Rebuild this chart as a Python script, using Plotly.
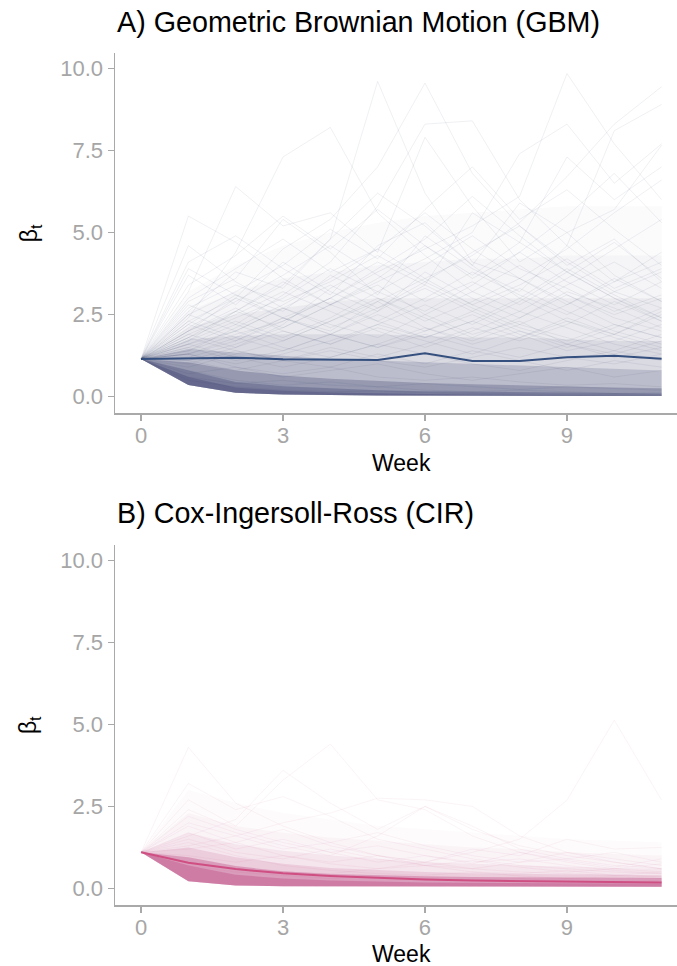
import plotly.graph_objects as go

# ---------------- data ----------------
weeks = list(range(12))
y_tick_vals = [0.0, 2.5, 5.0, 7.5, 10.0]
y_tick_text = ["0.0", "2.5", "5.0", "7.5", "10.0"]
x_tick_vals = [0, 3, 6, 9]
x_tick_text = ["0", "3", "6", "9"]

title_a = "A) Geometric Brownian Motion (GBM)"
title_b = "B) Cox-Ingersoll-Ross (CIR)"

gbm_mean = [1.15, 1.16, 1.19, 1.14, 1.13, 1.12, 1.32, 1.09, 1.09, 1.20, 1.25, 1.16]
gbm_lower = [1.15, 0.36, 0.12, 0.07, 0.05, 0.04, 0.03, 0.03, 0.02, 0.02, 0.02, 0.02]
gbm_upper_97 = [1.15, 3.2, 4.0, 4.6, 5.0, 5.3, 5.5, 5.6, 5.7, 5.8, 5.8, 5.8]
gbm_upper_92 = [1.15, 2.6, 3.2, 3.6, 3.8, 4.0, 4.1, 4.2, 4.2, 4.3, 4.3, 4.3]
gbm_upper_85 = [1.15, 2.1, 2.5, 2.7, 2.9, 3.0, 3.0, 3.0, 3.0, 3.0, 3.0, 3.0]
gbm_upper_75 = [1.15, 1.75, 1.85, 1.9, 1.9, 1.9, 1.85, 1.8, 1.8, 1.75, 1.7, 1.7]
gbm_upper_65 = [1.15, 1.45, 1.35, 1.25, 1.15, 1.1, 1.05, 1.0, 0.95, 0.9, 0.85, 0.8]
gbm_upper_40 = [1.15, 1.05, 0.8, 0.65, 0.55, 0.48, 0.42, 0.38, 0.34, 0.3, 0.28, 0.26]
gbm_upper_20 = [1.15, 0.8, 0.45, 0.32, 0.25, 0.2, 0.17, 0.15, 0.13, 0.12, 0.11, 0.1]
gbm_upper_10 = [1.15, 0.6, 0.28, 0.18, 0.13, 0.1, 0.08, 0.07, 0.06, 0.05, 0.05, 0.04]

# GBM: individual visible paths
gbm_paths = [
    [1.15, 1.8, 2.6, 3.4, 4.8, 9.6, 6.2, 4.1, 3.6, 2.9, 2.2, 1.8],
    [1.15, 2.4, 4.4, 7.3, 8.2, 5.6, 4.3, 3.2, 4.0, 3.1, 2.4, 2.0],
    [1.15, 5.5, 4.7, 3.6, 2.8, 3.4, 2.5, 1.9, 2.3, 1.6, 1.2, 1.5],
    [1.15, 3.2, 6.4, 5.2, 5.6, 4.4, 7.9, 5.8, 4.1, 5.0, 3.7, 2.9],
    [1.15, 2.0, 3.0, 4.5, 5.4, 7.0, 9.55, 6.8, 5.2, 4.0, 4.8, 3.5],
    [1.15, 1.6, 2.2, 3.1, 4.1, 5.8, 8.3, 8.4, 6.0, 4.6, 3.5, 4.1],
    [1.15, 1.4, 1.9, 2.3, 3.0, 3.8, 4.5, 5.2, 6.1, 9.84, 7.7, 6.0],
    [1.15, 1.7, 2.6, 2.1, 2.8, 3.5, 4.2, 5.0, 7.4, 8.3, 6.5, 7.7],
    [1.15, 1.3, 1.7, 2.4, 2.0, 2.9, 3.6, 4.3, 5.3, 6.7, 8.3, 9.44],
    [1.15, 2.9, 3.6, 5.4, 4.4, 3.1, 4.9, 3.9, 3.2, 4.6, 8.1, 8.9],
    [1.15, 1.9, 1.5, 2.2, 3.3, 4.1, 3.4, 5.6, 4.7, 7.3, 6.0, 7.0],
    [1.15, 2.6, 3.8, 3.3, 4.8, 6.2, 5.2, 4.0, 5.9, 5.0, 5.7, 7.66],
    [1.15, 3.7, 2.8, 4.1, 3.2, 2.6, 3.8, 3.0, 2.4, 3.2, 2.7, 2.1],
    [1.15, 4.1, 4.9, 3.9, 3.1, 4.6, 5.3, 4.0, 3.0, 2.3, 1.9, 2.6],
    [1.15, 2.2, 3.1, 2.6, 3.7, 3.0, 2.3, 2.9, 3.6, 2.8, 3.5, 4.4],
    [1.15, 1.6, 2.0, 2.7, 2.2, 1.8, 2.5, 3.2, 2.6, 3.4, 4.1, 3.3],
    [1.15, 2.8, 2.2, 1.7, 2.3, 2.9, 2.1, 1.6, 2.0, 1.5, 1.9, 2.5],
    [1.15, 1.2, 1.6, 2.1, 2.8, 2.3, 3.0, 3.8, 3.1, 2.5, 3.2, 2.7],
    [1.15, 1.9, 2.5, 3.2, 2.6, 2.0, 1.5, 2.0, 2.6, 2.1, 1.6, 1.3],
    [1.15, 2.3, 1.8, 2.4, 1.9, 2.6, 3.4, 2.7, 2.1, 1.7, 2.2, 1.8],
    [1.15, 0.9, 1.3, 1.7, 2.3, 3.0, 2.4, 1.8, 2.4, 3.1, 2.5, 3.0],
    [1.15, 1.5, 1.1, 1.4, 1.9, 1.5, 2.0, 2.6, 2.0, 1.6, 2.1, 2.7],
    [1.15, 2.0, 2.7, 2.0, 1.6, 2.1, 1.7, 1.3, 1.8, 2.3, 1.8, 1.4],
    [1.15, 1.3, 1.8, 1.4, 1.9, 2.5, 2.0, 2.5, 1.9, 1.4, 1.7, 2.2],
    [1.15, 3.0, 3.9, 4.8, 3.8, 4.5, 3.6, 2.8, 3.4, 4.2, 3.3, 3.9],
    [1.15, 1.8, 2.4, 3.0, 3.9, 3.2, 4.0, 4.9, 3.9, 3.3, 2.6, 3.1],
    [1.15, 4.6, 3.5, 2.7, 2.1, 2.7, 3.3, 2.6, 3.3, 2.6, 2.0, 1.6],
    [1.15, 2.1, 2.9, 3.7, 4.6, 3.7, 2.9, 3.5, 2.8, 3.6, 4.5, 5.4],
    [1.15, 1.5, 2.0, 1.5, 1.2, 1.6, 2.1, 1.7, 2.2, 1.8, 1.4, 1.9],
    [1.15, 2.5, 3.2, 4.0, 5.1, 4.2, 5.7, 7.0, 5.4, 6.3, 5.1, 4.0],
    [1.15, 1.1, 0.8, 1.1, 1.4, 1.1, 0.9, 1.2, 1.5, 1.2, 1.0, 1.3],
    [1.15, 0.7, 0.9, 0.6, 0.8, 1.0, 0.7, 0.5, 0.7, 0.9, 0.6, 0.8],
    [1.15, 0.6, 0.4, 0.5, 0.35, 0.3, 0.4, 0.3, 0.22, 0.3, 0.25, 0.2],
    [1.15, 0.8, 0.5, 0.35, 0.45, 0.3, 0.2, 0.15, 0.2, 0.14, 0.1, 0.12],
    [1.15, 1.3, 0.9, 0.7, 0.9, 0.6, 0.5, 0.6, 0.45, 0.35, 0.4, 0.3],
    [1.15, 0.5, 0.3, 0.2, 0.15, 0.18, 0.12, 0.1, 0.08, 0.06, 0.07, 0.05],
    [1.15, 2.7, 3.4, 2.9, 3.5, 4.3, 3.5, 4.4, 5.2, 4.1, 3.2, 3.8],
    [1.15, 1.4, 2.1, 2.8, 3.6, 4.5, 5.6, 4.5, 3.6, 4.5, 5.6, 6.6],
    [1.15, 2.2, 1.7, 2.3, 3.0, 3.9, 4.8, 6.1, 4.9, 3.8, 4.7, 3.6],
    [1.15, 3.4, 4.3, 5.5, 4.5, 5.7, 4.6, 3.6, 4.4, 5.5, 6.8, 5.3],
    [1.15, 1.7, 2.3, 1.8, 2.4, 3.2, 2.6, 3.4, 4.4, 3.5, 2.8, 3.5],
    [1.15, 2.5, 2.0, 2.7, 3.4, 2.7, 3.5, 2.8, 2.2, 2.8, 3.6, 2.9],
    [1.15, 1.1, 1.5, 2.0, 1.6, 2.2, 2.8, 2.2, 2.9, 3.8, 3.0, 2.4],
    [1.15, 1.8, 1.4, 1.1, 1.5, 1.2, 1.6, 2.1, 1.7, 2.2, 2.9, 2.3],
    [1.15, 1.0, 1.4, 1.1, 0.9, 1.3, 1.0, 1.4, 1.1, 0.8, 1.1, 0.9],
    [1.15, 2.3, 3.0, 2.4, 1.9, 1.5, 1.9, 1.5, 1.2, 1.6, 1.3, 1.7],
    [1.15, 1.6, 1.2, 0.9, 1.2, 1.6, 1.3, 1.0, 0.8, 1.1, 1.4, 1.1],
    [1.15, 3.9, 3.1, 2.4, 3.0, 2.3, 1.8, 2.3, 3.0, 3.9, 3.1, 2.4],
    [1.15, 2.0, 2.6, 3.5, 2.8, 3.6, 4.6, 3.7, 4.7, 3.8, 3.0, 2.3],
    [1.15, 1.3, 1.0, 1.3, 1.7, 2.2, 1.8, 2.3, 1.8, 2.4, 1.9, 1.5],
]

# CIR: mean path and density envelopes
cir_mean = [1.1, 0.78, 0.59, 0.46, 0.38, 0.32, 0.27, 0.24, 0.22, 0.20, 0.19, 0.18]
cir_lower = [1.1, 0.22, 0.09, 0.07, 0.06, 0.06, 0.05, 0.05, 0.05, 0.05, 0.05, 0.05]
cir_upper_98 = [1.1, 3.0, 2.6, 2.3, 2.1, 1.9, 1.8, 1.7, 1.6, 1.5, 1.45, 1.4]
cir_upper_93 = [1.1, 2.3, 1.9, 1.7, 1.55, 1.45, 1.35, 1.25, 1.2, 1.1, 1.05, 1.0]
cir_upper_85 = [1.1, 1.7, 1.35, 1.15, 1.0, 0.9, 0.8, 0.75, 0.7, 0.65, 0.62, 0.6]
cir_upper_65 = [1.1, 1.25, 0.95, 0.75, 0.62, 0.55, 0.5, 0.46, 0.44, 0.42, 0.41, 0.4]
cir_upper_45 = [1.1, 0.95, 0.68, 0.52, 0.44, 0.4, 0.37, 0.35, 0.34, 0.33, 0.32, 0.32]
cir_upper_25 = [1.1, 0.7, 0.42, 0.3, 0.24, 0.2, 0.18, 0.17, 0.16, 0.15, 0.15, 0.15]

cir_paths = [
    [1.1, 4.3, 2.6, 1.9, 1.4, 1.0, 0.8, 0.6, 0.5, 0.45, 0.4, 0.35],
    [1.1, 3.2, 2.4, 2.8, 2.2, 1.5, 1.2, 0.9, 0.7, 0.6, 0.5, 0.45],
    [1.1, 2.7, 1.9, 3.3, 4.4, 2.7, 2.4, 1.6, 1.1, 0.8, 0.6, 0.5],
    [1.1, 1.6, 2.1, 3.6, 2.6, 1.8, 2.5, 1.9, 1.2, 0.9, 0.7, 0.6],
    [1.1, 1.3, 1.6, 2.0, 2.3, 2.75, 2.7, 2.5, 1.6, 1.1, 0.9, 0.7],
    [1.1, 0.8, 0.6, 0.5, 0.45, 0.6, 0.8, 1.1, 1.5, 2.69, 5.13, 2.69],
    [1.1, 2.2, 1.7, 1.3, 1.0, 1.6, 2.5, 1.8, 1.3, 1.0, 0.8, 0.6],
    [1.1, 1.9, 1.4, 1.8, 1.3, 1.0, 0.8, 1.2, 1.0, 1.5, 1.2, 1.25],
    [1.1, 2.4, 1.8, 1.4, 1.1, 1.3, 1.0, 0.8, 0.9, 0.7, 0.55, 0.45],
    [1.1, 1.5, 1.1, 0.9, 1.2, 0.9, 0.7, 0.85, 0.65, 0.5, 0.6, 0.75],
    [1.1, 1.7, 1.2, 1.5, 1.1, 0.8, 1.0, 0.75, 1.1, 0.85, 0.65, 0.9],
    [1.1, 1.2, 1.4, 1.0, 0.8, 1.0, 0.7, 0.6, 0.8, 1.1, 0.8, 0.6],
    [1.1, 1.0, 0.8, 1.0, 0.75, 0.6, 0.7, 0.5, 0.45, 0.55, 0.4, 0.5],
    [1.1, 2.0, 1.6, 1.2, 1.4, 1.7, 1.3, 1.0, 0.8, 0.9, 1.1, 0.8],
    [1.1, 0.7, 0.5, 0.4, 0.3, 0.35, 0.28, 0.25, 0.3, 0.22, 0.2, 0.25],
    [1.1, 1.4, 1.0, 0.7, 0.55, 0.45, 0.4, 0.5, 0.38, 0.3, 0.35, 0.3],
]

# ---------------- styling ----------------
GBM_RGB = "55,60,105"
CIR_RGB = "185,65,125"
GBM_MEAN_COLOR = "#35507e"
CIR_MEAN_COLOR = "#cf4f83"
AXIS_GREY = "#a9a9a9"
FONT = "Liberation Sans, Arial, Helvetica, sans-serif"

fig = go.Figure()


def add_band(upper, lower, rgb, alpha, xa, ya):
    fig.add_trace(go.Scatter(
        x=weeks + weeks[::-1], y=upper + lower[::-1],
        fill="toself", fillcolor=f"rgba({rgb},{alpha})",
        line=dict(width=0), mode="lines", hoverinfo="skip",
        showlegend=False, xaxis=xa, yaxis=ya))


def add_paths(paths, rgb, alpha, xa, ya):
    for p in paths:
        fig.add_trace(go.Scatter(
            x=weeks, y=p, mode="lines",
            line=dict(color=f"rgba({rgb},{alpha})", width=1),
            hoverinfo="skip", showlegend=False, xaxis=xa, yaxis=ya))


# Panel A (GBM)
for up, a in [(gbm_upper_97, 0.02), (gbm_upper_92, 0.03), (gbm_upper_85, 0.05),
              (gbm_upper_75, 0.09), (gbm_upper_65, 0.18), (gbm_upper_40, 0.28),
              (gbm_upper_20, 0.3), (gbm_upper_10, 0.3)]:
    add_band(up, gbm_lower, GBM_RGB, a, "x", "y")
add_paths(gbm_paths, GBM_RGB, 0.08, "x", "y")
fig.add_trace(go.Scatter(x=weeks, y=gbm_mean, mode="lines",
                         line=dict(color=GBM_MEAN_COLOR, width=2),
                         hoverinfo="skip", showlegend=False, xaxis="x", yaxis="y"))

# Panel B (CIR)
for up, a in [(cir_upper_98, 0.025), (cir_upper_93, 0.04), (cir_upper_85, 0.08),
              (cir_upper_65, 0.15), (cir_upper_45, 0.35), (cir_upper_25, 0.35)]:
    add_band(up, cir_lower, CIR_RGB, a, "x2", "y2")
add_paths(cir_paths, CIR_RGB, 0.06, "x2", "y2")
fig.add_trace(go.Scatter(x=weeks, y=cir_mean, mode="lines",
                         line=dict(color=CIR_MEAN_COLOR, width=2),
                         hoverinfo="skip", showlegend=False, xaxis="x2", yaxis="y2"))

XR = [-0.55, 11.325]
YR = [-0.505, 10.466]

xaxis_common = dict(range=XR, tickvals=x_tick_vals, ticktext=x_tick_text,
                    showgrid=False, zeroline=False, showline=True,
                    linecolor=AXIS_GREY, linewidth=1.5, ticks="outside",
                    ticklen=6, tickwidth=1.5, tickcolor=AXIS_GREY,
                    ticklabelstandoff=-4,
                    tickfont=dict(family=FONT, size=22, color="#a6a6a6"))
yaxis_common = dict(range=YR, tickvals=y_tick_vals, ticktext=y_tick_text,
                    showgrid=False, zeroline=False, showline=True,
                    linecolor=AXIS_GREY, linewidth=1.5, ticks="outside",
                    ticklen=6, tickwidth=1.5, tickcolor=AXIS_GREY,
                    tickfont=dict(family=FONT, size=22, color="#a6a6a6"))

fig.update_layout(
    width=677, height=966,
    margin=dict(l=115, r=0, t=53, b=61, autoexpand=False),
    paper_bgcolor="white", plot_bgcolor="white",
    font=dict(family=FONT),
    hovermode=False,
    xaxis=dict(domain=[0, 1], anchor="y", **xaxis_common),
    yaxis=dict(domain=[0.5771, 1.0], anchor="x", **yaxis_common),
    xaxis2=dict(domain=[0, 1], anchor="y2", **xaxis_common),
    yaxis2=dict(domain=[0.0, 0.4225], anchor="x2", **yaxis_common),
)

ann = []
for title, ty in [(title_a, 1.0364), (title_b, 0.4601)]:
    ann.append(dict(text=title, xref="paper", yref="paper", x=0.0, y=ty,
                    xanchor="left", yanchor="middle", showarrow=False,
                    font=dict(family=FONT, size=28.7, color="black")))
for xr, yy in [("x", 0.5188), ("x2", -0.0575)]:
    ann.append(dict(text="Week", xref=xr, yref="paper", x=5.5, y=yy,
                    xanchor="center", yanchor="middle", showarrow=False,
                    font=dict(family=FONT, size=23, color="black")))
for yy in [0.7887, 0.2113]:
    ann.append(dict(text="β<sub>t</sub>", xref="paper", yref="paper", x=-0.151, y=yy,
                    xanchor="center", yanchor="middle", showarrow=False, textangle=-90,
                    font=dict(family=FONT, size=23, color="black")))
fig.update_layout(annotations=ann)

fig.write_html(
    "out.html",
    config={"displayModeBar": False, "staticPlot": True},
    post_script="document.body.style.margin='0px';document.body.style.overflow='hidden';",
)
